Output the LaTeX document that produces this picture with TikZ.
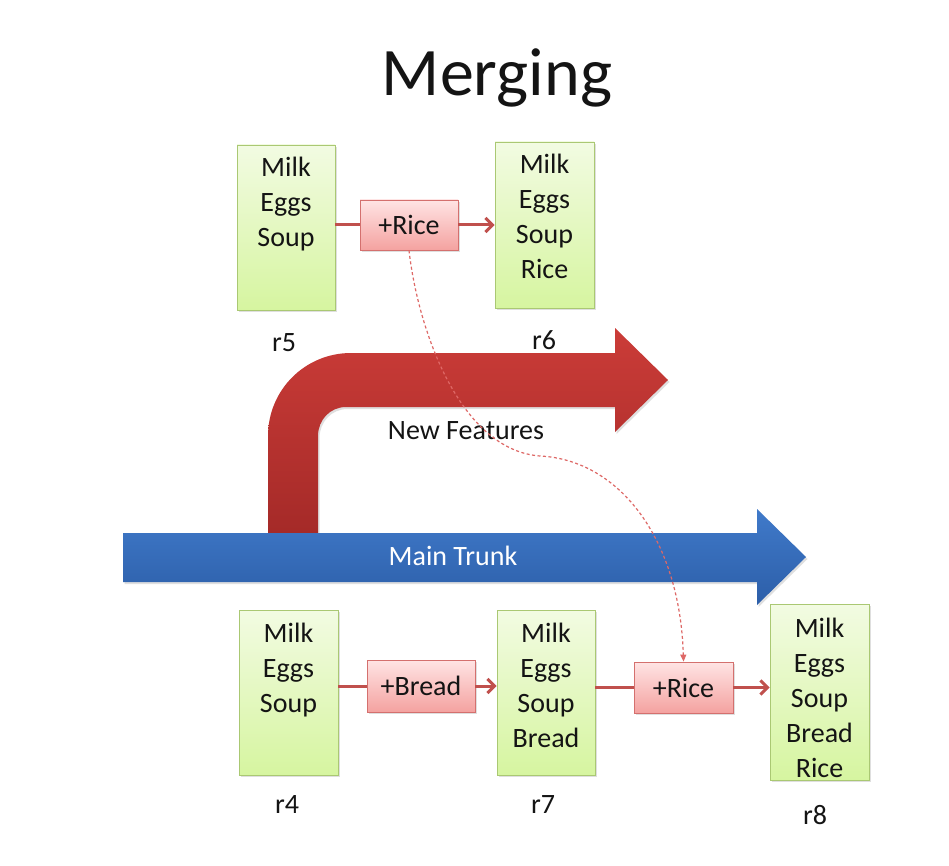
\documentclass[tikz,border=0pt]{standalone}
\usepackage{fontspec}
\setmainfont{Carlito}
\usetikzlibrary{arrows.meta,shadows}
\definecolor{gtop}{RGB}{242,251,226}
\definecolor{gbot}{RGB}{214,245,160}
\definecolor{gbord}{RGB}{170,200,115}
\definecolor{ptop}{RGB}{255,228,228}
\definecolor{pbot}{RGB}{244,162,160}
\definecolor{pbord}{RGB}{212,112,110}
\definecolor{flowc}{RGB}{192,80,77}
\definecolor{dashc}{RGB}{222,104,102}
\definecolor{redtop}{RGB}{203,60,56}
\definecolor{redbot}{RGB}{165,42,40}
\definecolor{bluetop}{RGB}{64,122,202}
\definecolor{bluebot}{RGB}{44,94,168}
\definecolor{txt}{RGB}{20,20,20}
\tikzset{
  softshadow/.style={drop shadow={opacity=0.25,shadow xshift=1.5pt,shadow yshift=-2pt}},
  gbox/.style={draw=gbord, line width=0.8pt, top color=gtop, bottom color=gbot, inner sep=0pt, softshadow},
  pbox/.style={draw=pbord, line width=0.8pt, top color=ptop, bottom color=pbot, inner sep=0pt,
    text=txt, font=\fontsize{28}{35}\selectfont, softshadow},
  items/.style={anchor=base, align=center, inner sep=0pt, text=txt, font=\fontsize{28}{35}\selectfont},
  lbl/.style={font=\fontsize{28}{34}\selectfont, inner sep=0pt, text=txt},
  flow/.style={draw=flowc, line width=3pt},
  flowarrow/.style={flow, -{Straight Barb[length=7pt,width=14pt]}},
  mergeline/.style={draw=dashc, line width=1.2pt, dash pattern=on 3pt off 2.5pt,
    -{Triangle[length=7pt,width=6pt]}}
}
\begin{document}
\begin{tikzpicture}[x=1pt,y=-1pt]
\useasboundingbox[fill=white] (0,0) rectangle (949,866);

% title
\node[font=\fontsize{68}{80}\selectfont, anchor=base, inner sep=0pt, text=txt] (title) at (497,96) {Merging};

% red bent arrow (new features)
\path[top color=redtop, middle color=redtop, bottom color=redbot, softshadow]
  (268,533) -- (268,436) .. controls (268,390) and (305,353) .. (351,353)
  -- (615,353) -- (615,328) -- (668,380) -- (615,432) -- (615,407)
  -- (346,407) .. controls (330,407) and (318,420) .. (318,436)
  -- (318,533) -- cycle;
\node[lbl] (nf) at (466,431) {New Features};

% blue arrow (main trunk)
\path[top color=bluetop, bottom color=bluebot, softshadow]
  (123,533) -- (757,533) -- (757,509) -- (806,557) -- (757,605) -- (757,582) -- (123,582) -- cycle;
\node[lbl, text=white] (mt) at (453,556) {Main Trunk};

% top row
\node[gbox, minimum width=98pt, minimum height=165pt] (r5) at (286,227.5) {};
\node[items] (r5t) at (286,247) {Milk\\Eggs\\Soup};
\node[pbox, minimum width=98pt, minimum height=50pt] (ricetop) at (409,225) {+Rice};
\node[gbox, minimum width=99pt, minimum height=166pt] (r6) at (544.5,225) {};
\node[items] (r6t) at (544.5,279) {Milk\\Eggs\\Soup\\Rice};
\node[lbl] (l5) at (284,343) {r5};
\node[lbl] (l6) at (544,340) {r6};

% bottom row
\node[gbox, minimum width=99pt, minimum height=165pt] (r4) at (288.5,692.5) {};
\node[items] (r4t) at (288.5,712) {Milk\\Eggs\\Soup};
\node[pbox, minimum width=108pt, minimum height=52pt] (bread) at (421,686) {+Bread};
\node[gbox, minimum width=98pt, minimum height=165pt] (r7) at (546,692.5) {};
\node[items] (r7t) at (546,747) {Milk\\Eggs\\Soup\\Bread};
\node[pbox, minimum width=99pt, minimum height=51pt] (ricebot) at (683.5,687.5) {+Rice};
\node[gbox, minimum width=99pt, minimum height=176pt] (r8) at (819.5,692) {};
\node[items] (r8t) at (819.5,777) {Milk\\Eggs\\Soup\\Bread\\Rice};
\node[lbl] (l4) at (287,805) {r4};
\node[lbl] (l7) at (543,805) {r7};
\node[lbl] (l8) at (815,815) {r8};

% connectors
\draw[flow] (ricetop.west -| r5.east) -- (ricetop.west);
\draw[flowarrow] (ricetop.east) -- (ricetop.east -| r6.west);
\draw[flow] (bread.west -| r4.east) -- (bread.west);
\draw[flowarrow] (bread.east) -- (bread.east -| r7.west);
\draw[flow] (ricebot.west -| r7.east) -- (ricebot.west);
\draw[flowarrow] (ricebot.east) -- (ricebot.east -| r8.west);

% merge
\draw[mergeline] (ricetop.south) .. controls (418,330) and (460,450) .. (540,456)
  .. controls (620,460) and (680,540) .. (ricebot.north);
\end{tikzpicture}
\end{document}
